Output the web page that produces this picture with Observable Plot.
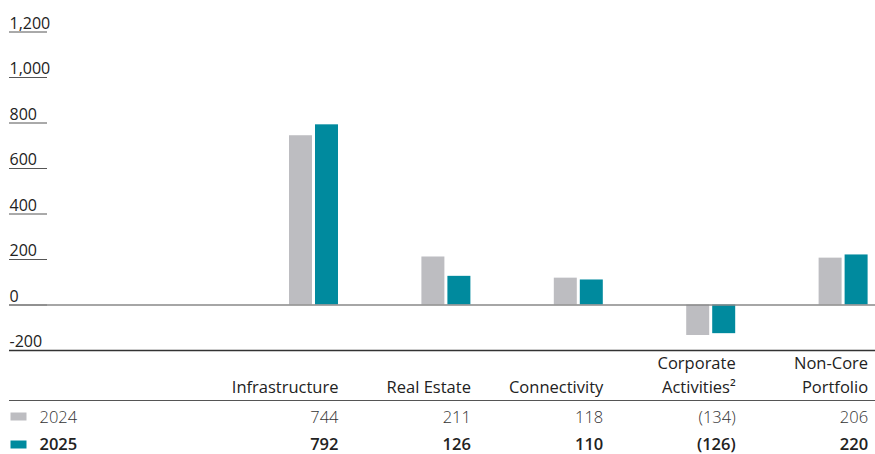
<!DOCTYPE html>
<html>
<head>
<meta charset="utf-8">
<script src="https://cdn.jsdelivr.net/npm/d3@7"></script>
<script src="https://cdn.jsdelivr.net/npm/@observablehq/plot@0.6"></script>
<style>
  html, body { margin: 0; padding: 0; background: #fff; }
  #chart svg { display: block; }
</style>
</head>
<body>
<div id="chart"></div>
<script>
// ---- data ----
const categories = ["Infrastructure", "Real Estate", "Connectivity", "Corporate Activities", "Non-Core Portfolio"];
const headerLabels = ["Infrastructure", "Real Estate", "Connectivity", "Corporate\nActivities\u00B2", "Non-Core\nPortfolio"];
const years = ["2024", "2025"];
const values2024 = [744, 211, 118, -134, 206];
const values2025 = [792, 126, 110, -126, 220];
const yTicks = [-200, 0, 200, 400, 600, 800, 1000, 1200];
const colors = { "2024": "#bdbdc1", "2025": "#008a9e" };

const fmtAxis = d => d.toLocaleString("en-US");
const fmtVal = v => v < 0 ? `(${Math.abs(v)})` : `${v}`;

const d2024 = categories.map((c, i) => ({ cat: c, year: "2024", value: values2024[i] }));
const d2025 = categories.map((c, i) => ({ cat: c, year: "2025", value: values2025[i] }));
const headers = categories.map((c, i) => ({ cat: c, label: headerLabels[i] }));

const rectSymbol = { draw(ctx) { ctx.rect(-8, -4, 16, 8); } };
const fontFamily = "'Open Sans', 'Noto Sans', sans-serif";
const fs = 16.5;

const chart = Plot.plot({
  width: 875,
  height: 454,
  marginLeft: 9,
  marginRight: 0,
  marginTop: 31.5,
  marginBottom: 104,
  style: { fontFamily, fontSize: "16px", color: "#222", background: "#fff" },
  x: { domain: categories, range: [289, 867.6], paddingInner: 0.63, paddingOuter: 0, round: false, axis: null },
  y: { domain: [-200, 1200], axis: null },
  marks: [
    // short tick underlines
    Plot.axisY(yTicks, { anchor: "left", tickSize: -38, tickFormat: () => "", stroke: "#555", label: null }),
    // tick labels sitting on the underlines
    Plot.text(yTicks, {
      y: d => d, text: fmtAxis, frameAnchor: "left", textAnchor: "start", lineAnchor: "bottom",
      dy: -3.5, fill: "#222", fontSize: 16
    }),
    Plot.barY(d2024, { x: "cat", y: "value", fill: colors["2024"], insetRight: 26 }),
    Plot.barY(d2025, { x: "cat", y: "value", fill: colors["2025"], insetLeft: 26 }),
    Plot.ruleY([0], { stroke: "#888", strokeWidth: 1.4 }),
    Plot.ruleY([-200], { stroke: "#333", strokeWidth: 1.7 }),
    Plot.ruleY([-200], { stroke: "#555", strokeWidth: 1, dy: 50 }),
    // table header
    Plot.text(headers, {
      x: "cat", text: "label", frameAnchor: "bottom", lineAnchor: "bottom",
      textAnchor: "end", dx: 24.5, dy: 42, lineHeight: 1.45, fill: "#222", fontSize: fs
    }),
    // 2024 row
    Plot.text(d2024, {
      x: "cat", text: d => fmtVal(d.value), frameAnchor: "bottom", lineAnchor: "bottom",
      textAnchor: "end", dx: 24.5, dy: 72, fill: "#333", fontWeight: 300, fontSize: fs
    }),
    // 2025 row
    Plot.text(d2025, {
      x: "cat", text: d => fmtVal(d.value), frameAnchor: "bottom", lineAnchor: "bottom",
      textAnchor: "end", dx: 24.5, dy: 99.5, fill: "#222", fontWeight: 600, fontSize: fs
    }),
    // row legends
    Plot.dot([years[0]], { frameAnchor: "bottom-left", symbol: rectSymbol, fill: colors["2024"], dx: 9, dy: 66 }),
    Plot.dot([years[1]], { frameAnchor: "bottom-left", symbol: rectSymbol, fill: colors["2025"], dx: 9, dy: 94 }),
    Plot.text([years[0]], { text: d => d, frameAnchor: "bottom-left", lineAnchor: "bottom", textAnchor: "start", dx: 30, dy: 72, fill: "#333", fontWeight: 300, fontSize: fs }),
    Plot.text([years[1]], { text: d => d, frameAnchor: "bottom-left", lineAnchor: "bottom", textAnchor: "start", dx: 30, dy: 99.5, fill: "#222", fontWeight: 600, fontSize: fs })
  ]
});
document.getElementById("chart").appendChild(chart);
</script>
</body>
</html>
